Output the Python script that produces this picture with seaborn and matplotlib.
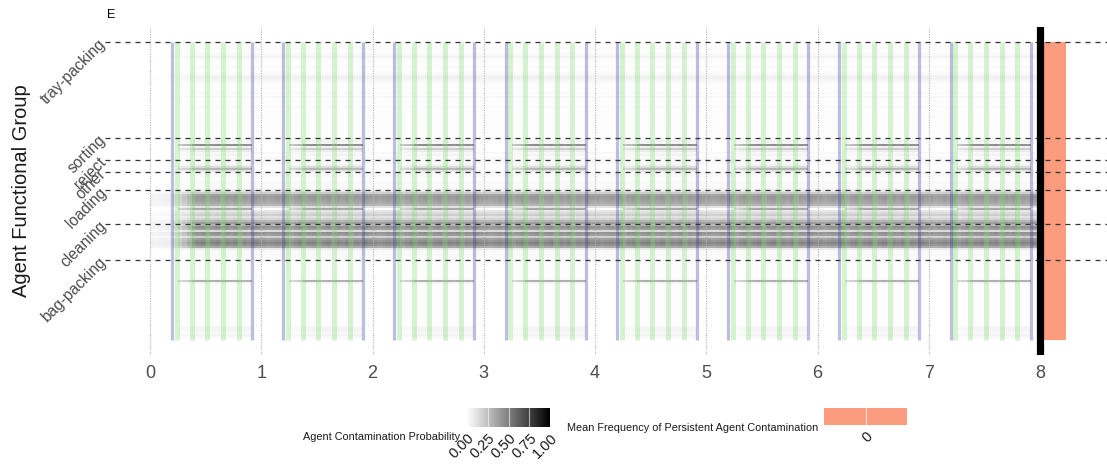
import numpy as np
import pandas as pd
import matplotlib
matplotlib.use("Agg")
import matplotlib.pyplot as plt
import seaborn as sns
from matplotlib.colors import LinearSegmentedColormap

# ---------------- data ----------------
groups = ["tray-packing", "sorting", "reject", "other", "loading", "cleaning", "bag-packing"]

# per-agent peak contamination probability; mode: S = only during shift, P = persistent
tray_packing_p = [0.01, 0.01, 0.01, 0.02, 0.01, 0.02, 0.03, 0.05, 0.02, 0.01,
                  0.01, 0.01, 0.02, 0.01, 0.01, 0.02, 0.04, 0.06, 0.05, 0.03,
                  0.02, 0.01, 0.01, 0.01, 0.01, 0.02, 0.01, 0.03, 0.01, 0.01,
                  0.01, 0.01, 0.02, 0.01, 0.01, 0.01, 0.01, 0.01, 0.01, 0.01,
                  0.01, 0.01, 0.01, 0.01, 0.01, 0.01, 0.01, 0.01]
tray_packing_mode = "PPPPPPPPPPPPPPPPPPPPPPPPPPPPPPPPPPPPPPPPPPPPPPPP"
sorting_p = [0.03, 0.05, 0.04, 0.45, 0.06, 0.20, 0.08, 0.03, 0.05, 0.02, 0.03]
sorting_mode = "PSSSSSSPSPP"
reject_p = [0.02, 0.03, 0.05, 0.15, 0.30, 0.10]
reject_mode = "PPSSSS"
other_p = [0.02, 0.03, 0.02, 0.01, 0.02, 0.03, 0.02, 0.02, 0.04]
other_mode = "PPPPPPPPP"
loading_p = [0.10, 0.20, 0.38, 0.42, 0.40, 0.38, 0.35, 0.30, 0.12, 0.35,
             0.10, 0.15, 0.20, 0.12, 0.18, 0.30, 0.40]
loading_mode = "PPPPPPPPPSPPPPPPP"
cleaning_p = [0.30, 0.45, 0.40, 0.15, 0.45, 0.40, 0.20, 0.40, 0.45, 0.50,
              0.45, 0.35, 0.08, 0.03, 0.02, 0.03, 0.02, 0.02]
cleaning_mode = "PPPPPPPPPPPPPPPPPP"
bag_packing_p = [0.01, 0.01, 0.01, 0.01, 0.01, 0.01, 0.01, 0.01, 0.01, 0.02,
                 0.32, 0.04, 0.01, 0.01, 0.01, 0.01, 0.01, 0.01, 0.01, 0.01,
                 0.01, 0.01, 0.01, 0.01, 0.01, 0.01, 0.01, 0.01, 0.01, 0.01,
                 0.01, 0.01, 0.01, 0.04, 0.05, 0.04, 0.03, 0.05, 0.03, 0.01]
bag_packing_mode = "SSSSSSSSSSSSSSSSSSSSSSSSSSSSSSSSSSSSSSSS"

# hourly profiles within a day (read from the stripes)
shift_profile = [0, 0, 0, 0, 0, 0, 0.55, 0.6, 0.65, 1, 1, 1, 1, 1, 1, 1, 1, 1, 1, 1, 1, 1, 0, 0]
day0_ramp = [0.12, 0.12, 0.14, 0.15, 0.18, 0.3, 0.5, 0.6, 0.7, 1, 1, 1, 1, 1, 1, 1, 1, 1, 1, 1, 1, 1, 1, 1]
hour_texture = [0.95, 0.9, 0.93, 0.97, 0.92, 1.0, 0.88, 0.95, 1.0, 0.93, 0.97, 1.0,
                0.9, 0.96, 1.0, 0.92, 0.98, 0.94, 1.0, 0.9, 0.96, 0.93, 1.0, 0.95]
n_days = 8

# event markers (hour of day)
blue_hours = [4.7, 22.0]
green_hours = [5.75, 9.0, 12.25, 15.7, 19.1]

# mean frequency of persistent contamination per group
persist_freq = [0, 0, 0, 0, 0, 0, 0]

# ---------------- build matrix ----------------
p_lists = [tray_packing_p, sorting_p, reject_p, other_p, loading_p, cleaning_p, bag_packing_p]
m_lists = [tray_packing_mode, sorting_mode, reject_mode, other_mode, loading_mode, cleaning_mode, bag_packing_mode]
row_p = np.concatenate([np.array(p, float) for p in p_lists])
row_m = "".join(m_lists)
group_sizes = [len(p) for p in p_lists]
group_starts = np.concatenate([[0], np.cumsum(group_sizes)[:-1]])
n_agents = len(row_p)
n_hours = n_days * 24

hod = np.arange(n_hours) % 24
day = np.arange(n_hours) // 24
shift_t = np.array(shift_profile)[hod] * np.array(hour_texture)[hod]
pers_t = np.where(day == 0, np.array(day0_ramp)[hod], 1.0) * np.array(hour_texture)[hod]
mat = np.zeros((n_agents, n_hours))
for i in range(n_agents):
    mat[i] = row_p[i] * (shift_t if row_m[i] == "S" else pers_t)
mat = np.clip(mat, 0, 1)
df = pd.DataFrame(mat)

# ---------------- plot ----------------
sns.set_style("white")
plt.rcParams['font.family'] = ['Liberation Sans', 'DejaVu Sans']

W, H = 1107, 468
fig = plt.figure(figsize=(W / 100, H / 100), dpi=100)
ax = fig.add_axes([105 / W, 1 - 355 / H, (W - 105) / W, (355 - 27) / H])

cmap = LinearSegmentedColormap.from_list("wb", ["#FFFFFF", "#000000"])
sns.heatmap(df, cmap=cmap, vmin=0, vmax=1, cbar=False, ax=ax,
            xticklabels=False, yticklabels=False, rasterized=True)

x_left = (105 - 150) / (111.25 / 24)
x_right = (1107 - 150) / (111.25 / 24)
ax.set_xlim(x_left, x_right)
ax.set_ylim(n_agents + 7.5, -7.5)

# vertical dotted gridlines
for d in range(n_days + 1):
    ax.axvline(d * 24, color="#b5b5b5", ls=(0, (1, 1.2)), lw=0.8, zorder=2)

# event overlays
for d in range(n_days):
    for h in green_hours:
        ax.vlines(d * 24 + h, 0, n_agents, color="#66dd55", alpha=0.27, lw=3.6, zorder=3)
    for h in blue_hours:
        ax.vlines(d * 24 + h, 0, n_agents, color="#3a3aa0", alpha=0.33, lw=2.3, zorder=3)

# persistence bar
persist_color = "#FC9C7F"
for g, s, n in zip(persist_freq, group_starts, group_sizes):
    ax.bar(n_days * 24, n, bottom=s, width=0.23 * 24, align="edge",
           color=persist_color, edgecolor="none", zorder=3)
ax.axvline(n_days * 24, color="black", lw=5.2, zorder=5)

# group separators
for s in group_starts:
    ax.axhline(s, color="#333333", lw=0.9, ls=(0, (4, 4)), zorder=4)

ax.set_xticks([d * 24 for d in range(n_days + 1)])
ax.set_xticklabels([str(d) for d in range(n_days + 1)], fontsize=13, color="#4D4D4D")
ax.set_yticks(group_starts)
ax.set_yticklabels(groups, fontsize=11.2, color="#4D4D4D", rotation=45,
                   ha="right", va="center", rotation_mode="anchor")
ax.tick_params(axis="x", length=0, pad=7)
ax.tick_params(axis="y", length=0, pad=1)
ax.set_xlabel("")
ax.set_ylabel("")
for sp in ax.spines.values():
    sp.set_visible(False)

fig.text(22 / W, 1 - 191 / H, "Agent Functional Group", rotation=90,
         ha="center", va="center", fontsize=14.5, color="#1a1a1a")
fig.text(107 / W, 1 - 15 / H, "E", ha="left", va="center", fontsize=9, color="black")

# colorbar legend
cax = fig.add_axes([467 / W, 1 - 427 / H, 83 / W, 19 / H])
cax.imshow(np.linspace(0, 1, 256).reshape(1, -1), aspect="auto", cmap=cmap,
           extent=[0, 1, 0, 1])
for t in [0.25, 0.5, 0.75]:
    cax.axvline(t, color="white", lw=0.8, alpha=0.6)
cax.set_xlim(0, 1)
cax.set_ylim(0, 1)
cax.set_yticks([])
cax.set_xticks([0, 0.25, 0.5, 0.75, 1])
cax.set_xticklabels(["0.00", "0.25", "0.50", "0.75", "1.00"], rotation=45, ha="right",
                    rotation_mode="anchor", fontsize=10.5, color="#1a1a1a")
cax.tick_params(axis="x", length=0, pad=3)
for sp in cax.spines.values():
    sp.set_visible(False)
fig.text(460 / W, 1 - 437 / H, "Agent Contamination Probability", ha="right", va="center",
         fontsize=7.8, color="#1a1a1a")

# persistence legend
kax = fig.add_axes([824 / W, 1 - 425 / H, 83 / W, 17 / H])
kax.axvspan(0, 1, color=persist_color)
kax.axvline(0.5, color="white", lw=0.8, alpha=0.7)
kax.set_xlim(0, 1)
kax.set_ylim(0, 1)
kax.set_yticks([])
kax.set_xticks([0.5])
kax.set_xticklabels([str(persist_freq[0])], rotation=45, ha="right", rotation_mode="anchor",
                    fontsize=10.5, color="#1a1a1a")
kax.tick_params(axis="x", length=0, pad=3)
for sp in kax.spines.values():
    sp.set_visible(False)
fig.text(818 / W, 1 - 428 / H, "Mean Frequency of Persistent Agent Contamination",
         ha="right", va="center", fontsize=7.8, color="#1a1a1a")

fig.savefig("out.png", dpi=100)
